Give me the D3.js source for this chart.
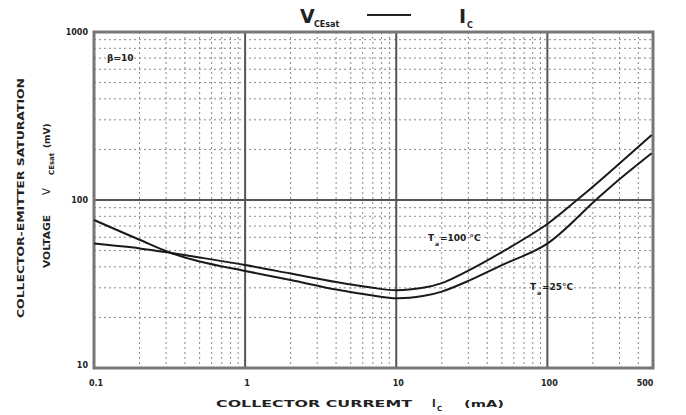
<!DOCTYPE html>
<html>
<head>
<meta charset="utf-8">
<style>
  body { margin: 0; background: #fff; }
  svg { display: block; }
  text { font-family: "DejaVu Sans", sans-serif; font-weight: bold; fill: #222; }
</style>
</head>
<body>
<script src="https://d3js.org/d3.v7.min.js"></script>
<script>

var width = 686,
    height = 415;
var margin = {"top": 32, "right": 33, "bottom": 47, "left": 94};

// collector current (mA) and saturation voltage (mV)
var current100 = [0.1, 0.2, 0.32, 0.5, 1, 2, 4, 7, 10, 15, 20, 30, 50, 100, 157, 200, 300, 490];
var vce100     = [55, 51.5, 48.5, 45.5, 41, 36.5, 32.5, 30, 29, 30, 32, 38, 49, 72, 100, 120, 165, 244];

var current25 = [0.1, 0.2, 0.32, 0.5, 1, 2, 4, 7, 10, 15, 20, 30, 50, 100, 209, 300, 490];
var vce25     = [76, 58, 48.5, 43, 37.8, 33.4, 29.3, 27, 26, 26.8, 28.5, 33, 41, 55, 100, 133, 190];

var xTicks = [0.1, 1, 10, 100, 500];
var xTickLabels = ["0.1", "1", "10", "100", "500"];
var yTicks = [10, 100, 1000];
var yTickLabels = ["10", "100", "1000"];

var x = d3.scaleLog().domain([0.1, 500]).range([margin.left, width - margin.right]);
var y = d3.scaleLog().domain([10, 1000]).range([height - margin.bottom, margin.top]);

var svg = d3.select("body").append("svg")
    .attr("width", width)
    .attr("height", height);

// minor grid
var xMinor = [];
[0.1, 1, 10, 100].forEach(function(d) {
  for (var k = 2; k <= 9; k++) if (d * k < 500) xMinor.push(d * k);
});
var yMinor = [];
[10, 100].forEach(function(d) {
  for (var k = 2; k <= 9; k++) yMinor.push(d * k);
});

svg.append("g").selectAll("line")
    .data(xMinor)
    .enter().append("line")
    .attr("x1", function(d) { return x(d); })
    .attr("x2", function(d) { return x(d); })
    .attr("y1", y(1000))
    .attr("y2", y(10))
    .attr("stroke", "#888")
    .attr("stroke-width", 1)
    .attr("stroke-dasharray", "2,3");

svg.append("g").selectAll("line")
    .data(yMinor)
    .enter().append("line")
    .attr("x1", x(0.1))
    .attr("x2", x(500))
    .attr("y1", function(d) { return y(d); })
    .attr("y2", function(d) { return y(d); })
    .attr("stroke", "#888")
    .attr("stroke-width", 1)
    .attr("stroke-dasharray", "2,3");

// decade lines
svg.append("g").selectAll("line")
    .data([1, 10, 100])
    .enter().append("line")
    .attr("x1", function(d) { return x(d); })
    .attr("x2", function(d) { return x(d); })
    .attr("y1", y(1000))
    .attr("y2", y(10))
    .attr("stroke", "#555")
    .attr("stroke-width", 2);

svg.append("line")
    .attr("x1", x(0.1)).attr("x2", x(500))
    .attr("y1", y(100)).attr("y2", y(100))
    .attr("stroke", "#555")
    .attr("stroke-width", 2);

// frame
svg.append("rect")
    .attr("x", x(0.1))
    .attr("y", y(1000))
    .attr("width", x(500) - x(0.1))
    .attr("height", y(10) - y(1000))
    .attr("fill", "none")
    .attr("stroke", "#777")
    .attr("stroke-width", 3);

// curves
var line = d3.line()
    .x(function(d) { return x(d[0]); })
    .y(function(d) { return y(d[1]); })
    .curve(d3.curveCatmullRom.alpha(0.5));

[[current100, vce100], [current25, vce25]].forEach(function(s) {
  svg.append("path")
      .datum(d3.zip(s[0], s[1]))
      .attr("d", line)
      .attr("fill", "none")
      .attr("stroke", "#1a1a1a")
      .attr("stroke-width", 2);
});

// tick labels
svg.append("g").selectAll("text")
    .data(xTicks)
    .enter().append("text")
    .attr("x", function(d) { return x(d) + (d === 500 ? -8 : 2); })
    .attr("y", y(10) + 18)
    .attr("text-anchor", "middle")
    .attr("font-size", 8)
    .attr("fill", "#444")
    .text(function(d, i) { return xTickLabels[i]; });

svg.append("g").selectAll("text")
    .data(yTicks)
    .enter().append("text")
    .attr("x", x(0.1) - 6)
    .attr("y", function(d) { return y(d) + (d === 10 ? 0 : 3); })
    .attr("text-anchor", "end")
    .attr("font-size", 8)
    .attr("fill", "#444")
    .text(function(d, i) { return yTickLabels[i]; });

// title
svg.append("text").attr("x", 300).attr("y", 23).attr("font-size", 19).attr("font-weight", "normal").text("V");
svg.append("text").attr("x", 314).attr("y", 27).attr("font-size", 8).text("CEsat");
svg.append("line").attr("x1", 367).attr("x2", 411).attr("y1", 15).attr("y2", 15)
    .attr("stroke", "#222").attr("stroke-width", 2);
svg.append("text").attr("x", 459).attr("y", 23).attr("font-size", 19).attr("font-weight", "normal").text("I");
svg.append("text").attr("x", 467).attr("y", 28).attr("font-size", 8).text("C");

// x axis title
svg.append("text").attr("x", 216).attr("y", 407).attr("font-size", 9)
    .attr("textLength", 196).attr("lengthAdjust", "spacingAndGlyphs")
    .text("COLLECTOR CURREMT");
svg.append("text").attr("x", 432).attr("y", 407).attr("font-size", 10).text("I");
svg.append("text").attr("x", 437).attr("y", 411).attr("font-size", 7).text("C");
svg.append("text").attr("x", 464).attr("y", 407).attr("font-size", 9)
    .attr("textLength", 40).attr("lengthAdjust", "spacingAndGlyphs")
    .text("(mA)");

// y axis title
svg.append("text")
    .attr("transform", "translate(24,318) rotate(-90)")
    .attr("font-size", 9)
    .attr("textLength", 240).attr("lengthAdjust", "spacingAndGlyphs")
    .text("COLLECTOR-EMITTER SATURATION");

var yl = svg.append("text")
    .attr("transform", "translate(50,268) rotate(-90)")
    .attr("font-size", 9);
yl.append("tspan").attr("x", 0).attr("textLength", 53).attr("lengthAdjust", "spacingAndGlyphs").text("VOLTAGE");
yl.append("tspan").attr("x", 73).attr("font-size", 10).attr("font-weight", "normal").text("V");
yl.append("tspan").attr("x", 93).attr("dy", 4).attr("font-size", 7).text("CEsat");
yl.append("tspan").attr("x", 120).attr("dy", -4).attr("font-size", 9).text("(mV)");

// annotations
svg.append("text").attr("x", 107).attr("y", 61).attr("font-size", 9).text("\u03b2=10");

svg.append("text").attr("x", 428).attr("y", 241).attr("font-size", 9).text("T");
svg.append("text").attr("x", 435).attr("y", 246).attr("font-size", 6).text("a");
svg.append("text").attr("x", 440).attr("y", 241).attr("font-size", 9).text("=100 \u00b0C");

svg.append("text").attr("x", 530).attr("y", 290).attr("font-size", 9).text("T");
svg.append("text").attr("x", 537).attr("y", 295).attr("font-size", 6).text("a");
svg.append("text").attr("x", 542).attr("y", 290).attr("font-size", 9).text("=25\u00b0C");

</script>
</body>
</html>
